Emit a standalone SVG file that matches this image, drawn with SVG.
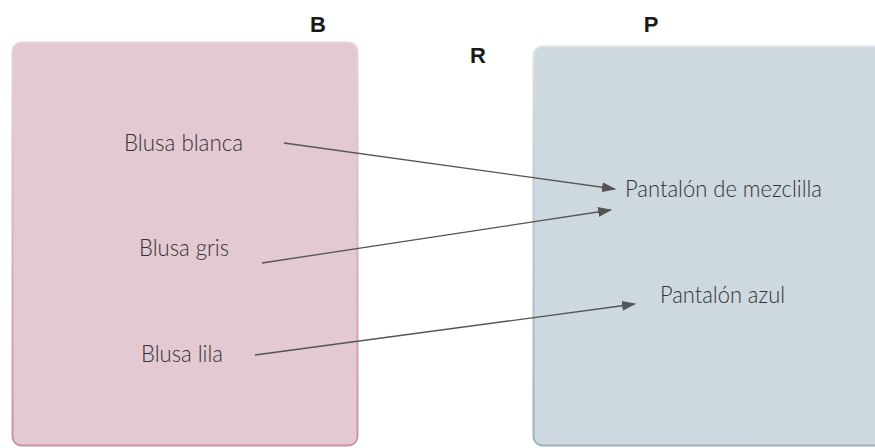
<svg xmlns="http://www.w3.org/2000/svg" width="875" height="448" viewBox="0 0 875 448">
<style>
.lbl{font-family:Lato,"Liberation Sans",sans-serif;font-weight:300;font-size:24px;fill:#333;}
.title{font-family:"Liberation Sans",Arial,sans-serif;font-weight:bold;font-size:22px;fill:#1a1a1a;}
.conn{stroke:#555;stroke-width:1.3;fill:none;marker-end:url(#ah);}
</style>
<defs>
<marker id="ah" markerWidth="14" markerHeight="10" refX="13" refY="5" orient="auto" markerUnits="userSpaceOnUse">
<path d="M0,0 L14,5 L0,10 Z" fill="#555"/>
</marker>
<linearGradient id="gB" x1="0" y1="0" x2="0" y2="1">
<stop offset="0" stop-color="#e8d3db"/>
<stop offset="0.4" stop-color="#dcb6c4"/>
<stop offset="1" stop-color="#cc92a8"/>
</linearGradient>
<linearGradient id="gP" x1="0" y1="0" x2="0" y2="1">
<stop offset="0" stop-color="#dbe3e8"/>
<stop offset="0.4" stop-color="#bccbd4"/>
<stop offset="1" stop-color="#9ab1be"/>
</linearGradient>
</defs>
<g id="setB">
<rect x="12.5" y="42.5" width="345" height="403" rx="9" fill="#e3c9d2" stroke="url(#gB)" stroke-width="2"/>
<text class="title" x="318" y="32" text-anchor="middle">B</text>
</g>
<g id="setP">
<rect x="533.5" y="46.5" width="360" height="399" rx="9" fill="#cdd8df" stroke="url(#gP)" stroke-width="2"/>
<text class="title" x="651" y="32" text-anchor="middle">P</text>
</g>
<g id="relR">
<text class="title" x="478" y="63" text-anchor="middle">R</text>
</g>
<g id="b1"><text class="lbl" x="124" y="151" textLength="119" lengthAdjust="spacingAndGlyphs">Blusa blanca</text></g>
<g id="b2"><text class="lbl" x="139" y="256" textLength="90" lengthAdjust="spacingAndGlyphs">Blusa gris</text></g>
<g id="b3"><text class="lbl" x="141" y="362" textLength="82" lengthAdjust="spacingAndGlyphs">Blusa lila</text></g>
<g id="p1"><text class="lbl" x="625" y="197" textLength="197" lengthAdjust="spacingAndGlyphs">Pantalón de mezclilla</text></g>
<g id="p2"><text class="lbl" x="660" y="303" textLength="125" lengthAdjust="spacingAndGlyphs">Pantalón azul</text></g>
<g id="connectors">
<line class="conn" x1="284" y1="143" x2="615" y2="189"/>
<line class="conn" x1="262" y1="263" x2="611" y2="210"/>
<line class="conn" x1="255" y1="355" x2="635" y2="304"/>
</g>
</svg>
